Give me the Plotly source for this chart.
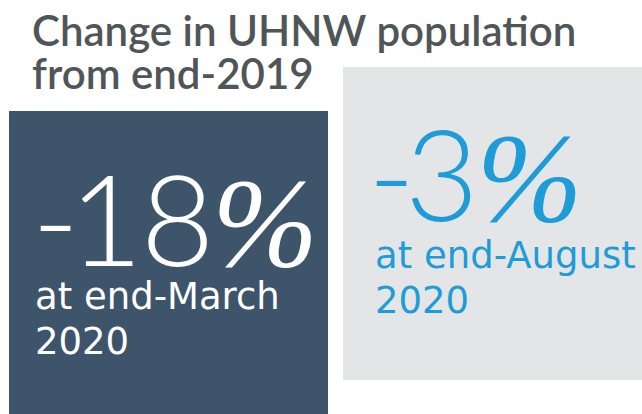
import plotly.graph_objects as go

# ---- data ----
values = [-18, -3]
period_labels = [["at end-March", "2020"], ["at end-August", "2020"]]
title_lines = ["Change in UHNW population", "from end-2019"]
box_colors = ["#3d546b", "#e4e5e7"]
text_colors = ["#ffffff", "#1e9cd7"]

# ---- layout constants (page pixels) ----
W, H = 642, 414
boxes = [(9, 111, 328, 414), (343, 67, 642, 380)]
num_pos = [(30, 261), (366, 216)]      # x, baseline
lab_pos = [(33, 309, 354), (373, 268, 313)]

fig = go.Figure()
fig.add_trace(go.Scatter(x=[0, W], y=[0, H], mode="markers",
                         marker=dict(opacity=0), hoverinfo="skip", showlegend=False))

shapes = []
for (x0, y0, x1, y1), c in zip(boxes, box_colors):
    shapes.append(dict(type="rect", xref="x", yref="y", x0=x0, y0=y0, x1=x1, y1=y1,
                       fillcolor=c, line=dict(width=0), layer="below"))

ann = []
def place(text, x, baseline, size, color, family, weight=400):
    ann.append(dict(text=text, x=x, y=baseline - 0.35 * size, xref="x", yref="y",
                    xanchor="left", yanchor="middle", showarrow=False,
                    font=dict(size=size, color=color, family=family, weight=weight)))

place(title_lines[0], 30, 45, 42, "#505558", "Lato", 600)
place(title_lines[1], 30, 88, 42, "#505558", "Lato", 600)

for i, v in enumerate(values):
    sign = "-" if v < 0 else "+"
    txt = (f"<span style='letter-spacing:-10px'>{sign}</span>"
           f"<span style='letter-spacing:-2px'>{abs(v)}</span>"
           f"<span style='font-family:Liberation Serif;font-style:italic'>%</span>")
    place(txt, num_pos[i][0], num_pos[i][1], 127, text_colors[i], "Lato", 300)
    lx, b1, b2 = lab_pos[i]
    place(period_labels[i][0], lx, b1, 37, text_colors[i], "DejaVu Sans", 400)
    place(period_labels[i][1], lx, b2, 37, text_colors[i], "DejaVu Sans", 400)

fig.update_layout(
    width=W, height=H, margin=dict(l=0, r=0, t=0, b=0),
    paper_bgcolor="white", plot_bgcolor="white",
    xaxis=dict(range=[0, W], visible=False, fixedrange=True),
    yaxis=dict(range=[H, 0], visible=False, fixedrange=True),
    shapes=shapes, annotations=ann, showlegend=False,
)
fig.write_html("out.html", config={"displayModeBar": False},
               post_script="document.body.style.margin='0';document.body.style.overflow='hidden';")
